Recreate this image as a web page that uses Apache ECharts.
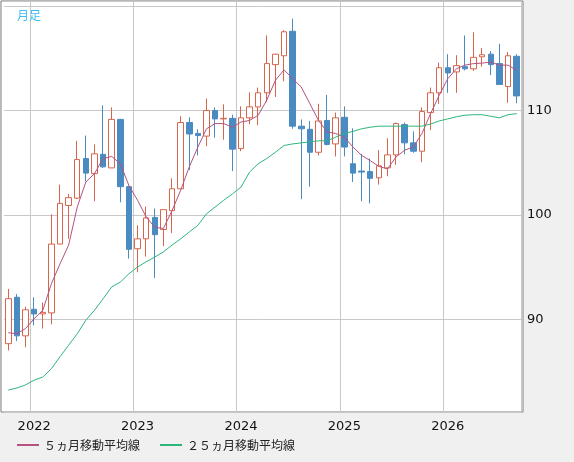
<!DOCTYPE html>
<html><head><meta charset="utf-8">
<script src="https://cdn.jsdelivr.net/npm/echarts@6/dist/echarts.min.js"></script>
<style>html,body{margin:0;padding:0;background:#f0f0f0}#c{width:574px;height:462px}</style>
</head><body><div id="c"></div>
<script>
// months Oct 2021 .. Sep 2026
const months = [];
for (let y = 2021, m = 10; months.length < 60; ) { months.push(y + '-' + String(m).padStart(2,'0')); m++; if (m > 12) { m = 1; y++; } }
const opens  = [87.65,92.1,88.4,90.95,90.5,90.6,97.2,100.9,101.6,105.4,103.95,105.8,104.5,109.15,102.7,96.75,97.7,99.75,98.6,100.4,102.5,108.85,107.8,107.55,110.0,109.2,109.25,106.35,109.3,110.35,111.7,114.4,115.25,117.6,108.5,108.2,106.0,109.05,106.8,109.35,104.9,104.2,104.15,103.55,104.5,105.75,108.65,106.9,106.1,109.8,111.7,114.1,113.7,114.2,114.0,115.15,115.4,114.5,112.3,115.2];
const closes = [91.96,88.4,90.9,90.5,90.65,97.2,101.1,101.65,105.3,104.0,105.85,104.6,109.15,102.7,96.7,97.7,99.7,98.1,100.5,102.5,108.85,107.75,107.6,110.0,109.2,109.25,106.3,109.3,110.35,111.7,114.5,115.4,117.55,108.5,108.25,106.0,109.0,106.75,109.3,106.5,104.0,104.1,103.5,104.7,105.75,108.75,106.9,106.1,109.9,111.7,114.1,113.6,114.3,114.0,115.1,115.35,114.4,112.5,115.25,111.4];
const lows   = [87.0,87.9,87.3,89.4,89.1,89.5,97.2,97.7,101.5,103.2,101.3,104.5,104.5,101.2,95.8,94.5,96.0,93.95,97.0,98.25,102.5,104.3,105.7,106.6,107.4,107.2,104.2,106.1,108.7,108.6,110.8,111.3,112.8,108.25,101.5,102.7,105.7,106.65,105.6,105.6,103.15,101.3,101.1,102.9,103.7,104.8,105.8,105.95,105.05,108.15,110.65,111.7,111.7,113.85,113.8,114.2,113.4,112.5,110.75,110.7];
const highs  = [92.9,92.4,91.2,92.1,91.6,100.05,102.9,102.0,107.1,107.6,106.75,110.5,110.3,109.2,102.8,99.0,100.8,100.6,100.5,103.5,109.45,109.35,108.2,111.15,110.3,110.6,109.6,110.4,111.75,112.2,117.2,115.45,117.7,118.8,109.15,109.0,110.65,111.5,109.8,110.4,108.3,105.85,105.4,106.2,107.35,108.85,108.85,108.0,110.3,112.2,114.6,115.4,115.3,117.2,117.5,116.0,115.7,116.4,115.6,115.4];
const ma5  = [88.7,88.6,89.1,90.05,90.85,93.4,95.3,97.1,100.75,103.15,103.95,105.4,105.6,104.9,102.8,101.4,99.8,98.8,98.7,100.4,102.35,104.6,106.5,108.25,108.75,108.75,108.4,108.9,109.05,109.55,111.0,112.9,113.9,113.05,112.25,110.65,109.05,107.95,107.8,107.45,106.5,105.7,105.2,104.65,104.4,105.55,106.2,106.5,107.8,109.7,111.45,113.05,114.0,114.35,114.5,114.55,114.65,114.35,114.35,113.85];
const ma25 = [83.2,83.4,83.7,84.15,84.45,85.25,86.4,87.5,88.6,89.9,90.85,91.95,93.1,93.55,94.35,95.0,95.5,95.95,96.45,97.1,97.7,98.35,99.0,100.1,100.75,101.4,102.0,102.65,104.1,104.9,105.4,106.0,106.65,106.8,106.9,107.0,107.1,107.1,107.45,107.8,108.0,108.25,108.4,108.5,108.5,108.5,108.5,108.5,108.5,108.7,109.0,109.2,109.4,109.55,109.6,109.6,109.45,109.3,109.6,109.7];
const yTicks = [85,90,95,100,105,110,115];

const candles = opens.map((o,i)=>[o, closes[i], lows[i], highs[i]]);
const isJan = i => months[i].endsWith('-01');
const chart = echarts.init(document.getElementById('c'));
chart.setOption({
  animation:false,
  backgroundColor:'#f0f0f0',
  graphic:[{type:'rect', z:-10, shape:{x:1,y:1,width:522,height:411}, style:{fill:'#fff', stroke:'#808080', lineWidth:1}}],
  title:{text:'月足', left:12, top:4, textStyle:{color:'#3cbcf0', fontSize:12, fontWeight:'normal', fontFamily:'Noto Sans CJK JP'}},
  grid:{left:4, right:53, top:1, bottom:50},
  legend:{bottom:6, left:12, itemWidth:22, itemHeight:2, itemGap:20, icon:'rect',
    textStyle:{fontSize:12, color:'#222', fontFamily:'Noto Sans CJK JP'},
    data:['５ヵ月移動平均線','２５ヵ月移動平均線']},
  xAxis:{type:'category', data:months, boundaryGap:true,
    axisLine:{show:false}, axisTick:{show:false},
    splitLine:{show:true, interval:(i)=>isJan(i), lineStyle:{color:'#c8c8c8'}},
    axisLabel:{interval:(i)=>isJan(i), formatter:v=>v.slice(0,4), color:'#111', fontSize:13, margin:8, fontFamily:'DejaVu Sans'}},
  yAxis:{type:'value', position:'right', min:81.1, max:120.5, scale:true,
    axisLine:{show:false}, axisTick:{show:false},
    splitLine:{lineStyle:{color:'#c8c8c8'}},
    axisLabel:{showMinLabel:false, showMaxLabel:false, color:'#111', fontSize:13, margin:6, fontFamily:'DejaVu Sans',
      formatter:v=> yTicks.includes(Math.round(v*100)/100) ? String(v) : ''}},
  series:[
    {type:'candlestick', data:candles, barWidth:6, z:3,
     itemStyle:{color:'#ffffff', color0:'#4a8bc1', borderColor:'#d6654b', borderColor0:'#4a8bc1', borderWidth:1}},
    {name:'５ヵ月移動平均線', type:'line', data:ma5, symbol:'none', z:4, lineStyle:{color:'#b5527f', width:1}, itemStyle:{color:'#b5527f'}},
    {name:'２５ヵ月移動平均線', type:'line', data:ma25, symbol:'none', z:4, lineStyle:{color:'#2fb57b', width:1}, itemStyle:{color:'#2fb57b'}}
  ]
});
</script></body></html>
